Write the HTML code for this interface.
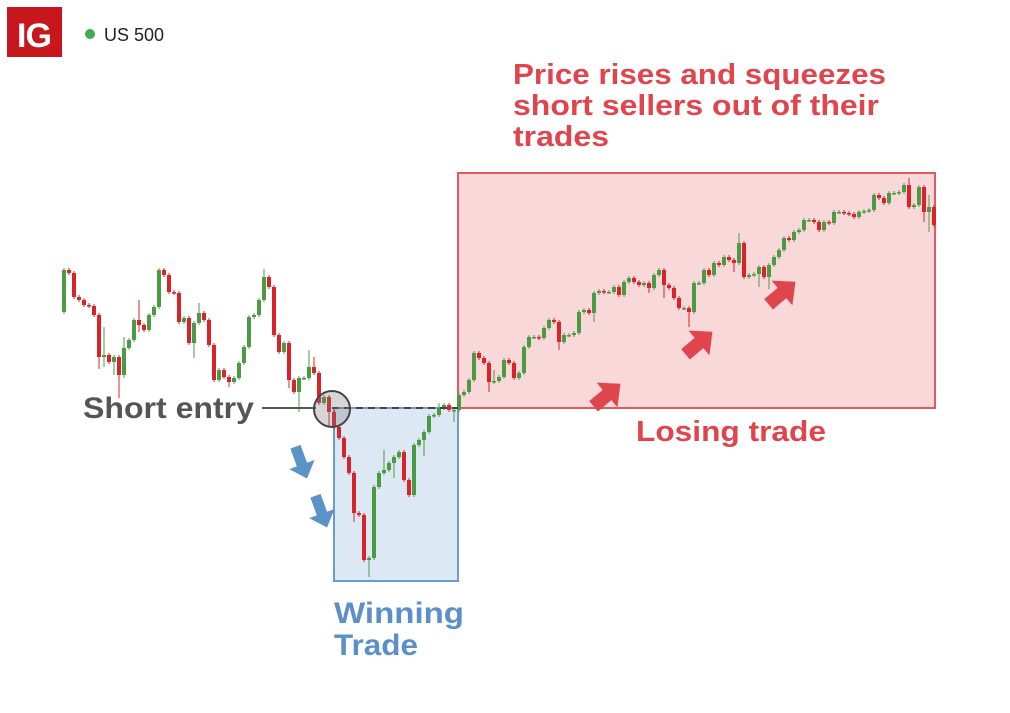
<!DOCTYPE html>
<html><head><meta charset="utf-8"><style>
html,body{margin:0;padding:0;background:#fff;}
svg{display:block;font-family:"Liberation Sans",sans-serif;}
</style></head><body>
<svg id="chart" width="1010" height="713" viewBox="0 0 1010 713">
  <g>
    <rect x="7" y="7" width="55" height="50" fill="#c8161d"/>
    <text x="34" y="47" text-anchor="middle" fill="#fff" font-size="34" font-weight="bold" letter-spacing="-1">IG</text>
  </g>
  <circle cx="90" cy="34" r="5" fill="#3fae49"/>
  <text x="104" y="41" font-size="18" fill="#222">US 500</text>

  <rect x="458" y="173" width="477" height="235" fill="#f9d8da" stroke="#e05a60" stroke-width="2"/>
  <rect x="334" y="408" width="124" height="173" fill="#dde8f5" stroke="#6c9bd0" stroke-width="2"/>

  <g id="candles"></g>

  <line x1="332" y1="408" x2="458" y2="408" stroke="#444" stroke-width="2" stroke-dasharray="7,5"/>
  <line x1="262" y1="408" x2="316" y2="408" stroke="#555" stroke-width="2"/>
  <circle cx="332" cy="409" r="18" fill="rgba(120,120,120,0.3)" stroke="#444" stroke-width="2"/>

  <text x="83" y="418" font-size="30" font-weight="bold" fill="#555" textLength="171" lengthAdjust="spacingAndGlyphs">Short entry</text>
  <g fill="#e0454d" font-size="29" font-weight="bold">
    <text x="513" y="84" textLength="373" lengthAdjust="spacingAndGlyphs">Price rises and squeezes</text>
    <text x="513" y="115" textLength="366" lengthAdjust="spacingAndGlyphs">short sellers out of their</text>
    <text x="513" y="146" textLength="96" lengthAdjust="spacingAndGlyphs">trades</text>
  </g>
  <text x="636" y="441" font-size="29" font-weight="bold" fill="#e0454d" textLength="190" lengthAdjust="spacingAndGlyphs">Losing trade</text>
  <g fill="#5b8fc7" font-size="30" font-weight="bold">
    <text x="334" y="623" textLength="130" lengthAdjust="spacingAndGlyphs">Winning</text>
    <text x="334" y="655" textLength="84" lengthAdjust="spacingAndGlyphs">Trade</text>
  </g>

  <g fill="#5b93c9">
    <path d="M-4,-12 L4,-12 L4,2 L10,2 L0,13 L-10,2 L-4,2 Z" transform="translate(301,462) rotate(-20) scale(1.35)"/>
    <path d="M-4,-12 L4,-12 L4,2 L10,2 L0,13 L-10,2 L-4,2 Z" transform="translate(321,511) rotate(-20) scale(1.35)"/>
  </g>
  <g fill="#e0454d">
    <path d="M-5,13 L5,13 L5,0 L12,0 L0,-13 L-12,0 L-5,0 Z" transform="translate(607,395) rotate(50) scale(1.35)"/>
    <path d="M-5,13 L5,13 L5,0 L12,0 L0,-13 L-12,0 L-5,0 Z" transform="translate(699,343) rotate(50) scale(1.35)"/>
    <path d="M-5,13 L5,13 L5,0 L12,0 L0,-13 L-12,0 L-5,0 Z" transform="translate(782,293) rotate(50) scale(1.35)"/>
  </g>
</svg>
<script>
const firstOpen = 388;
const closes = [430,427,403,400,395,394,385,343,345,338,343,325,352,360,380,375,370,385,393,430,425,408,407,378,382,357,377,387,380,355,320,330,323,318,322,337,353,383,385,400,423,413,365,348,357,320,308,322,322,333,327,297,303,288,
273,262,243,227,187,185,140,142,213,227,230,237,243,248,220,205,255,260,268,284,285,292,295,290,290,305,
308,320,347,342,337,318,319,323,340,337,322,327,353,363,363,362,372,380,378,358,365,365,367,388,390,387,407,409,408,408,413,405,418,422,418,415,417,412,425,430,415,412,402,392,392,388,417,417,430,425,437,435,443,440,437,457,423,425,426,433,423,435,443,450,462,460,468,470,480,480,478,470,478,477,488,488,487,486,483,488,489,490,505,502,497,507,507,508,515,493,495,513,488,493,475];
const wickDefault = [2, 2];
const wickOverrides = [[7,2,12],[8,28,10],[10,2,13],[11,2,23],[12,11,3],[15,20,7],[26,2,15],[27,10,2],[33,2,5],[40,8,2],[45,2,8],[47,2,20],[49,17,2],[50,10,2],[53,2,15],[58,2,9],[61,2,17],[64,20,2],[66,2,15],[72,2,16],[75,5,2],[78,2,12],[85,2,10],[86,11,2],[99,2,8],[106,2,9],[117,2,5],[120,2,13],[125,2,15],[134,2,9],[135,10,2],[139,2,13],[141,2,12],[169,7,2],[172,2,10],[173,12,20]];

const X0 = 64, STEP = 5, BODY = 4;
function xScale(i){ return X0 + i*STEP; }
function yScale(p){ return 700 - p; }

const g = document.getElementById('candles');
const NS = 'http://www.w3.org/2000/svg';
const wu = closes.map(()=>wickDefault[0]);
const wd = closes.map(()=>wickDefault[1]);
wickOverrides.forEach(o=>{ wu[o[0]] = o[1]; wd[o[0]] = o[2]; });
closes.forEach((c,i)=>{
  const o = i===0 ? firstOpen : closes[i-1];
  const up = c >= o;
  const col = up ? '#4d9a45' : '#d9232b';
  const hi = Math.max(o,c) + wu[i], lo = Math.min(o,c) - wd[i];
  const x = xScale(i);
  const w = document.createElementNS(NS,'line');
  w.setAttribute('x1', x); w.setAttribute('x2', x);
  w.setAttribute('y1', yScale(hi)); w.setAttribute('y2', yScale(lo));
  w.setAttribute('stroke', col); w.setAttribute('stroke-width', 1);
  
  
  g.appendChild(w);
  const r = document.createElementNS(NS,'rect');
  const top = yScale(Math.max(o,c)), bot = yScale(Math.min(o,c));
  r.setAttribute('x', x - BODY/2); r.setAttribute('width', BODY);
  r.setAttribute('y', top); r.setAttribute('height', Math.max(1.5, bot-top));
  r.setAttribute('fill', col);
  
  
  g.appendChild(r);
});
</script>
</body></html>
